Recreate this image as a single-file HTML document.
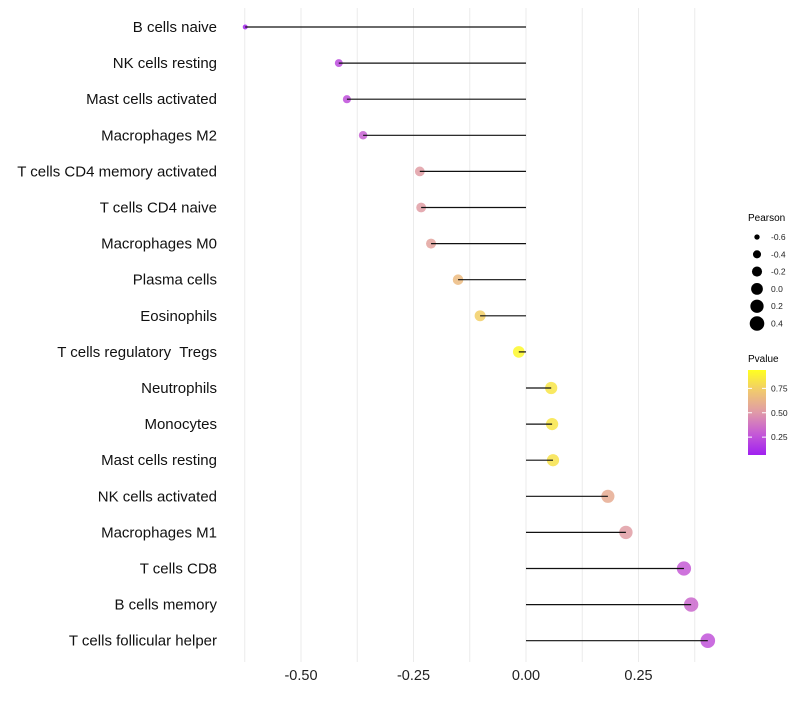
<!DOCTYPE html>
<html><head><meta charset="utf-8"><style>
body{margin:0;background:#fff;font-family:"Liberation Sans",sans-serif}
text{white-space:pre}
</style></head><body>
<svg id="chart" width="800" height="700" xmlns="http://www.w3.org/2000/svg" font-family="Liberation Sans, sans-serif">
<g id="grid"></g>
<g id="marks"></g>
<g id="ylabels"></g>
<g id="xlabels"></g>
<g id="legend">
<text x="748" y="221" font-size="10">Pearson</text>
<g id="sizeLegend"></g>
<text x="748" y="362" font-size="10">Pvalue</text>
<defs><linearGradient id="pg" x1="0" y1="1" x2="0" y2="0">
<stop offset="0" stop-color="#a020f0"/><stop offset="0.25" stop-color="#c55ad6"/><stop offset="0.5" stop-color="#e09aa8"/><stop offset="0.75" stop-color="#f0c870"/><stop offset="1" stop-color="#ffff20"/></linearGradient></defs>
<rect x="748" y="370" width="18" height="85" fill="url(#pg)"/>
<g id="cbTicks"></g>
</g>
</svg>
<script>
const categories=["B cells naive","NK cells resting","Mast cells activated","Macrophages M2","T cells CD4 memory activated","T cells CD4 naive","Macrophages M0","Plasma cells","Eosinophils","T cells regulatory  Tregs","Neutrophils","Monocytes","Mast cells resting","NK cells activated","Macrophages M1","T cells CD8","B cells memory","T cells follicular helper"];
const pearson=[-0.624,-0.416,-0.398,-0.362,-0.236,-0.233,-0.211,-0.151,-0.102,-0.016,0.056,0.058,0.060,0.182,0.222,0.351,0.367,0.404];
const pvalues=[0.02,0.18,0.2,0.27,0.52,0.52,0.55,0.68,0.78,0.97,0.88,0.88,0.87,0.6,0.52,0.25,0.3,0.22];
const xTicks=[-0.5,-0.25,0,0.25];
const xTickLabels=["-0.50","-0.25","0.00","0.25"];
const sizeLegendValues=[-0.6,-0.4,-0.2,0.0,0.2,0.4];
const sizeLegendLabels=["-0.6","-0.4","-0.2","0.0","0.2","0.4"];
const cbTicks=[0.25,0.5,0.75];
const cbLabels=["0.25","0.50","0.75"];

const NS="http://www.w3.org/2000/svg";
const xs=v=>526+v*450;
const ys=i=>27+i*36.1;
const rs=v=>Math.sqrt(6+(v+0.625)*46);
const stops=[[0,[160,32,240]],[0.25,[197,90,214]],[0.5,[224,154,168]],[0.75,[240,200,112]],[1,[255,255,32]]];
function col(p){p=Math.max(0,Math.min(1,p));for(let k=1;k<stops.length;k++){if(p<=stops[k][0]){const a=stops[k-1],b=stops[k],t=(p-a[0])/(b[0]-a[0]);return "rgb("+a[1].map((c,j)=>Math.round(c+(b[1][j]-c)*t)).join(",")+")";}}}
function mk(tag,attrs,parent){const e=document.createElementNS(NS,tag);for(const k in attrs)e.setAttribute(k,attrs[k]);parent.appendChild(e);return e;}
const grid=document.getElementById('grid');
for(let v=-0.625;v<=0.45;v+=0.125){const l=mk('line',{x1:xs(v),x2:xs(v),y1:8,y2:662,stroke:"#ebebeb","stroke-width":1},grid);

}
const marks=document.getElementById('marks'),yl=document.getElementById('ylabels');
categories.forEach((c,i)=>{
 const y=ys(i);
 const ci=mk('circle',{cx:xs(pearson[i]),cy:y,r:rs(pearson[i]),fill:col(pvalues[i]),"fill-opacity":0.85},marks);
 
 
 const ln=mk('line',{x1:xs(0),x2:xs(pearson[i]),y1:y,y2:y,stroke:"#111","stroke-width":1.2},marks);
 
 
 const t=mk('text',{x:217,y:y+5,"text-anchor":"end","font-size":15,fill:"#111"},yl);
 t.textContent=c;
 
 
});
const xl=document.getElementById('xlabels');
xTicks.forEach((v,i)=>{const t=mk('text',{x:xs(v),y:680,"text-anchor":"middle","font-size":14.5,fill:"#222"},xl);t.textContent=xTickLabels[i];

});
const sl=document.getElementById('sizeLegend');
sizeLegendValues.forEach((v,i)=>{const y=237+i*17.3;
 const c=mk('circle',{cx:757,cy:y,r:rs(v),fill:"#000"},sl);
 
 
 const t=mk('text',{x:771,y:y+3,"font-size":8.5,fill:"#222"},sl);t.textContent=sizeLegendLabels[i];
 
 });
const cb=document.getElementById('cbTicks');
cbTicks.forEach((p,i)=>{const y=461.5-p*97.5;
 const l=mk('line',{x1:748,x2:752,y1:y,y2:y,stroke:"#fff"},cb);
 
 
 const l2=mk('line',{x1:762,x2:766,y1:y,y2:y,stroke:"#fff"},cb);
 
 
 const t=mk('text',{x:771,y:y+3,"font-size":8.5,fill:"#222"},cb);t.textContent=cbLabels[i];
 
 });
</script>
</body></html>
